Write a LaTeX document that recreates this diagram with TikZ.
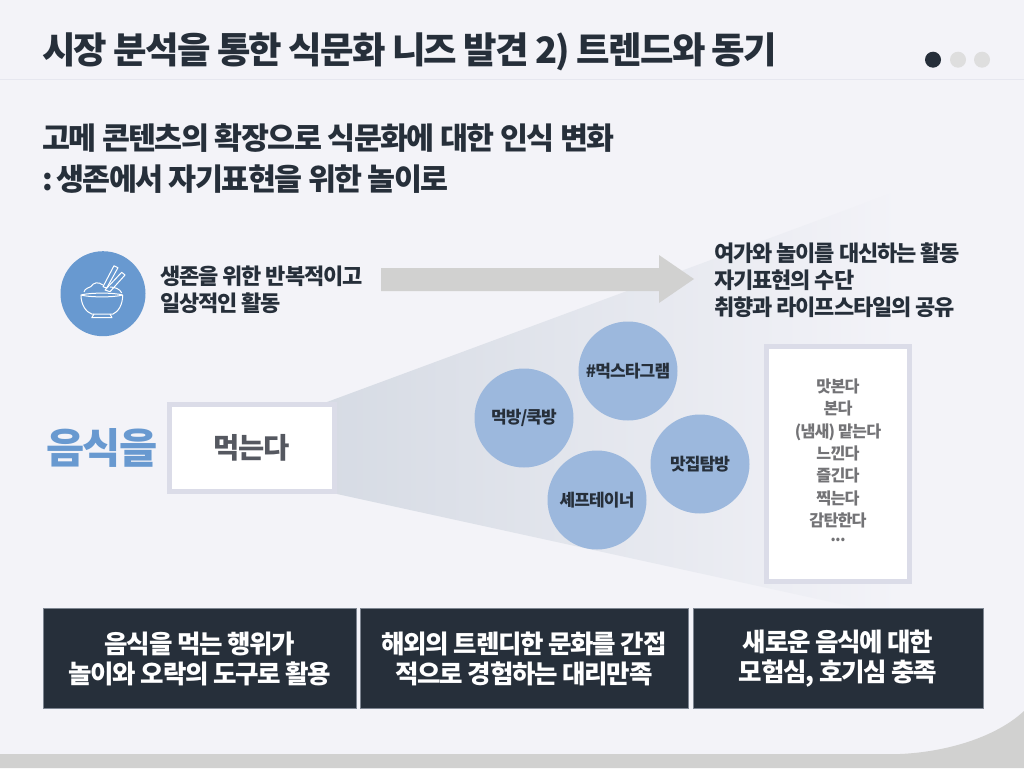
\documentclass[tikz,border=0pt]{standalone}
\usepackage{fontspec}
\setmainfont{Noto Sans CJK KR}[LetterSpace=-5]
\definecolor{pagebg}{RGB}{243,243,248}
\definecolor{inkdark}{RGB}{38,47,58}
\definecolor{bandgray}{RGB}{209,209,208}
\definecolor{framelav}{RGB}{219,220,232}
\definecolor{iconblue}{RGB}{104,153,208}
\definecolor{bubbleblue}{RGB}{156,184,221}
\definecolor{conegray}{RGB}{214,219,228}
\definecolor{conemid}{RGB}{231,233,238}
\definecolor{dotgray}{RGB}{222,222,222}
\definecolor{eatgray}{RGB}{85,88,96}
\definecolor{verbgray}{RGB}{115,115,118}
\definecolor{edgegray}{RGB}{125,133,145}
\begin{document}
\begin{tikzpicture}[
    x=1pt, y=-1pt,
    heading/.style={font=\bfseries\fontsize{36.4}{40}\selectfont, text=inkdark, anchor=west, inner sep=0pt},
    subhead/.style={font=\bfseries\fontsize{30.4}{41}\selectfont, text=inkdark, anchor=west, align=left, inner sep=0pt},
    remark/.style={font=\bfseries\fontsize{22}{27}\selectfont, text=inkdark, anchor=west, align=left, inner sep=0pt},
    framebox/.style={draw=framelav, line width=5pt, fill=white, align=center, inner sep=0pt},
    bubble/.style={circle, fill=bubbleblue, minimum size=99pt, inner sep=0pt, text=inkdark, font=\bfseries\fontsize{17}{20}\selectfont},
    darkbox/.style={draw=edgegray, line width=0.7pt, fill=inkdark, text=white, minimum height=100pt, align=center, inner sep=0pt, font=\bfseries\fontsize{25.5}{30}\selectfont},
    dot/.style={circle, minimum size=16pt, inner sep=0pt},
    iconline/.style={draw=white, line width=1pt, line join=round}
]
\useasboundingbox (0,0) rectangle (1024,768);
\fill[pagebg] (0,0) rectangle (1024,768);
\fill[bandgray] (0,754) -- (900,754) .. controls (945,752) and (995,738) .. (1024,711) -- (1024,768) -- (0,768) -- cycle;

% header
\draw[framelav!70, line width=0.8pt] (0,79.5) -- (1024,79.5);
\node[heading] (title) at (42,51.5) {시장 분석을 통한 식문화 니즈 발견 2) 트렌드와 동기};
\node[dot, fill=inkdark] (dotone) at (933,59.7) {};
\node[dot, fill=dotgray] (dottwo) at (958,59.7) {};
\node[dot, fill=dotgray] (dotthree) at (982,59.7) {};

\node[subhead] (lead) at (42,158.5) {고메 콘텐츠의 확장으로 식문화에 대한 인식 변화\\:\hspace{-4pt} 생존에서 자기표현을 위한 놀이로};

% cone behind the bubbles
\shade[left color=conegray, middle color=conemid, right color=pagebg] (327,402) -- (900,190) -- (900,617) -- (337,494) -- cycle;

% upper row
\node[circle, fill=iconblue, minimum size=85pt, inner sep=0pt] (iconbg) at (103,293.7) {};
\draw[iconline] (81,295) .. controls (90,292.5) and (114,292.5) .. (122.7,295) .. controls (114,297.5) and (90,297.5) .. (81,295) -- cycle;
\draw[iconline] (81,295) .. controls (81,305) and (86,312) .. (91.7,314) -- (113,314) .. controls (118,312) and (122.7,305) .. (122.7,295);
\draw[iconline] (94,314) -- (91.7,317.7) -- (112,317.7) -- (110,314);
\draw[iconline] (84,292) .. controls (85,288) and (89,288) .. (91,286.5) .. controls (93,283) and (98,281) .. (103,285);
\draw[iconline] (110,287) .. controls (115,287) and (120,289) .. (121.7,293);
\draw[iconline] (103,286.7) -- (114,265.7) -- (118,267.7) -- (106.7,288) -- cycle;
\draw[iconline] (105,290) -- (121.7,272.3) -- (125,275) -- (110,291.7) -- cycle;
\node[remark] (surviveline) at (160,289.5) {생존을 위한 반복적이고\\일상적인 활동};
\fill[bandgray] (381,268) -- (659,268) -- (659,255) -- (694,279) -- (659,303) -- (659,291) -- (381,291) -- cycle;
\node[remark] (playline) at (714,280) {여가와 놀이를 대신하는 활동\\자기표현의 수단\\취향과 라이프스타일의 공유};

% middle row
\node[text=iconblue, font=\bfseries\fontsize{41.5}{44}\selectfont] (food) at (102,448) {음식을};
\node[framebox, minimum width=165pt, minimum height=87pt, text=eatgray, font=\bfseries\fontsize{28.5}{32}\selectfont] (eat) at (251.8,448) {먹는다};

\node[bubble] (mukstagram) at (628,371) {\#먹스타그램};
\node[bubble] (mukbang) at (524,418) {먹방/쿡방};
\node[bubble] (restaurant) at (700,464) {맛집탐방};
\node[bubble] (chef) at (597,500) {셰프테이너};

\node[framebox, minimum width=143pt, minimum height=235.5pt, text=verbgray, font=\bfseries\fontsize{16.2}{22.3}\selectfont] (verbs) at (838,463.8) {맛본다\\본다\\(냄새) 맡는다\\느낀다\\즐긴다\\찍는다\\감탄한다\\\raisebox{7pt}{...}};

% bottom row
\node[darkbox, minimum width=313pt] (usebox) at (200,658.5) {음식을 먹는 행위가\\놀이와 오락의 도구로 활용};
\node[darkbox, minimum width=328pt] (trendbox) at (524,658.5) {해외의 트렌디한 문화를 간접\\적으로 경험하는 대리만족};
\node[darkbox, minimum width=290pt] (newbox) at (838,658.5) {새로운 음식에 대한\\모험심, 호기심 충족};
\end{tikzpicture}
\end{document}
